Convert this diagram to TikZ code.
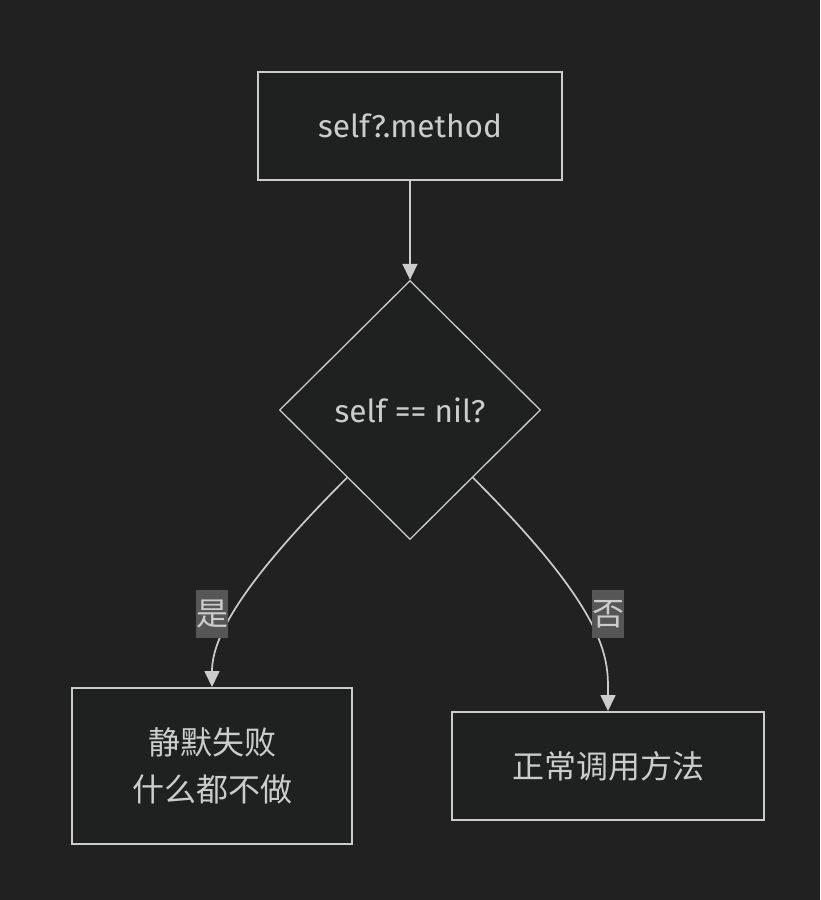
\documentclass[tikz,border=0pt]{standalone}
\usepackage{fontspec}
\setmainfont{Fira Sans}
\newfontfamily\cjk{Noto Sans CJK SC}
\usepackage{tikz}
\usetikzlibrary{shapes.geometric,arrows.meta,calc}
\definecolor{bgcol}{RGB}{33,33,33}
\definecolor{boxcol}{RGB}{31,32,32}
\definecolor{linecol}{RGB}{204,204,204}
\definecolor{lblcol}{RGB}{86,86,86}

\begin{document}
\begin{tikzpicture}[x=1pt, y=-1pt,
  every node/.style={text=linecol, font=\fontsize{31.6}{47}\selectfont},
  box/.style={draw=linecol, fill=boxcol, line width=2pt, inner sep=0pt, align=center},
  decision/.style={diamond, draw=linecol, fill=boxcol, line width=1.3pt, inner sep=0pt,
    minimum width=261pt, minimum height=259pt},
  edgelabel/.style={fill=lblcol, inner sep=0pt, minimum width=32pt, minimum height=48pt,
    font=\cjk\fontsize{32}{47}\selectfont},
  flow/.style={draw=linecol, line width=1.7pt, -{Triangle[length=16pt,width=15pt]}}]

  \fill[bgcol] (0,0) rectangle (820,900);
  \useasboundingbox (0,0) rectangle (820,900);

  \node[box, minimum width=304pt, minimum height=108pt] (start) at (410,126) {self?.method};
  \node[decision] (check) at (410,410) {self == nil?};
  \node[box, minimum width=280pt, minimum height=156pt,
    font=\cjk\fontsize{32}{47}\selectfont] (silent) at (212,766) {静默失败\\什么都不做};
  \node[box, minimum width=312pt, minimum height=108pt,
    font=\cjk\fontsize{32}{47}\selectfont] (normal) at (608,766) {正常调用方法};

  \coordinate (yesstart) at ($(check.west)!0.52!(check.south)$);
  \coordinate (nostart) at ($(check.east)!0.52!(check.south)$);

  \draw[flow] (start) -- (check); %% start -> check
  \draw[flow] (yesstart) .. controls +(-105,105) and +(0,-50) .. (silent.north); %% yes
  \draw[flow] (nostart) .. controls +(140,140) and +(0,-50) .. (normal.north); %% no

  \node[edgelabel] (yes) at (212,614) {是};
  \node[edgelabel] (no) at (608,614) {否};

\end{tikzpicture}
\end{document}
